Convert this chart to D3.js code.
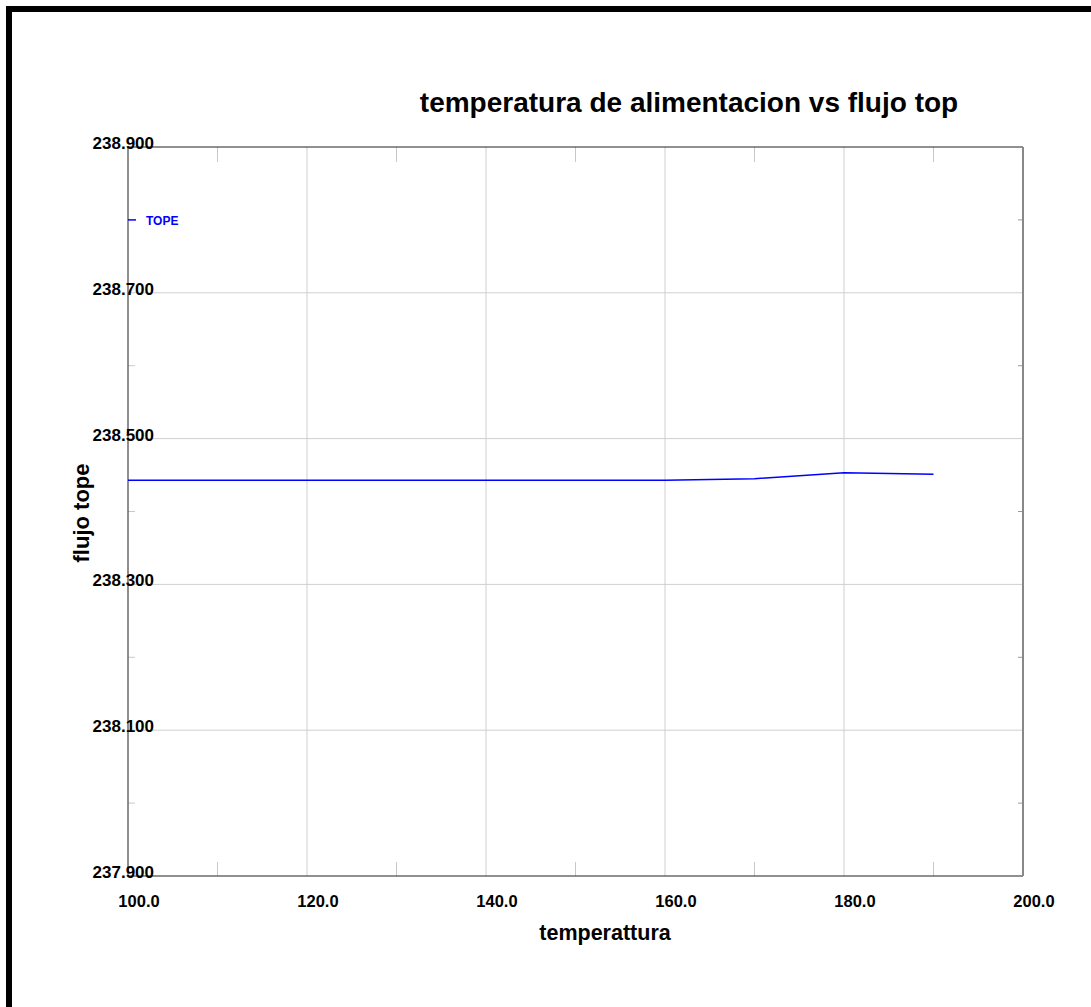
<!DOCTYPE html>
<html>
<head>
<meta charset="utf-8">
<script src="https://cdn.jsdelivr.net/npm/d3@7"></script>
<style>
  body { margin: 0; background: #fff; }
  svg { display: block; }
</style>
</head>
<body>
<script>
// temperatura de alimentacion vs flujo top
const temps = [100, 110, 120, 130, 140, 150, 160, 170, 180, 190];
const flujoTope = [238.443, 238.443, 238.443, 238.443, 238.443, 238.443, 238.443, 238.445, 238.453, 238.451];
const xMajor = [100, 120, 140, 160, 180, 200];
const xMinor = [110, 130, 150, 170, 190];
const yMajor = [237.9, 238.1, 238.3, 238.5, 238.7, 238.9];
const yMinor = [238.0, 238.2, 238.4, 238.6, 238.8];
const seriesName = "TOPE";

const width = 1091, height = 1007;
const margin = {top: 147, right: 68, bottom: 131, left: 128};
const innerW = width - margin.left - margin.right;
const innerH = height - margin.top - margin.bottom;
const font = "'Liberation Sans', Arial, sans-serif";

const svg = d3.select("body").append("svg")
  .attr("width", width).attr("height", height)
  .style("font-family", font);

// marco grueso (solo se ve izquierda y arriba)
svg.append("rect")
  .attr("x", 9).attr("y", 9).attr("width", 1200).attr("height", 1200)
  .attr("fill", "none").attr("stroke", "#000").attr("stroke-width", 6);

const x = d3.scaleLinear().domain([100, 200]).range([0, innerW]);
const y = d3.scaleLinear().domain([237.9, 238.9]).range([innerH, 0]);

const g = svg.append("g").attr("transform", `translate(${margin.left},${margin.top})`);

// rejilla principal
g.selectAll(".gx").data(xMajor.slice(1, -1)).join("line")
  .attr("x1", d => x(d)).attr("x2", d => x(d))
  .attr("y1", 0).attr("y2", innerH)
  .attr("stroke", "#cfcfcf").attr("stroke-width", 1);
g.selectAll(".gy").data(yMajor.slice(1, -1)).join("line")
  .attr("x1", 0).attr("x2", innerW)
  .attr("y1", d => y(d)).attr("y2", d => y(d))
  .attr("stroke", "#cfcfcf").attr("stroke-width", 1);

// marcas menores
for (const v of xMinor) {
  g.append("line").attr("x1", x(v)).attr("x2", x(v)).attr("y1", 0).attr("y2", 15)
    .attr("stroke", "#c8c8c8");
  g.append("line").attr("x1", x(v)).attr("x2", x(v)).attr("y1", innerH - 14).attr("y2", innerH)
    .attr("stroke", "#c8c8c8");
}
for (const v of yMinor) {
  g.append("line").attr("x1", innerW - 5).attr("x2", innerW).attr("y1", y(v)).attr("y2", y(v))
    .attr("stroke", "#999");
  if (v !== 238.8) {
    g.append("line").attr("x1", 0).attr("x2", 7).attr("y1", y(v)).attr("y2", y(v))
      .attr("stroke", "#c8c8c8");
  }
}

// bordes del área de trazado
g.append("line").attr("x1", 0).attr("x2", innerW).attr("y1", 0).attr("y2", 0)
  .attr("stroke", "#222").attr("stroke-width", 1.2);
g.append("line").attr("x1", 0).attr("x2", innerW).attr("y1", innerH).attr("y2", innerH)
  .attr("stroke", "#222").attr("stroke-width", 1.2);
g.append("line").attr("x1", 0).attr("x2", 0).attr("y1", 0).attr("y2", innerH)
  .attr("stroke", "#444").attr("stroke-width", 1.2);
g.append("line").attr("x1", innerW).attr("x2", innerW).attr("y1", 0).attr("y2", innerH)
  .attr("stroke", "#888").attr("stroke-width", 2);

// serie
g.append("path")
  .datum(temps.map((t, i) => [t, flujoTope[i]]))
  .attr("fill", "none").attr("stroke", "#0000ff").attr("stroke-width", 1.5)
  .attr("d", d3.line().x(d => x(d[0])).y(d => y(d[1])));

// leyenda
g.append("line").attr("x1", 0).attr("x2", 8).attr("y1", y(238.8)).attr("y2", y(238.8))
  .attr("stroke", "#0000ff").attr("stroke-width", 1.5);
g.append("text").attr("x", 18).attr("y", y(238.8) + 5)
  .attr("font-size", 12).attr("font-weight", "bold").attr("fill", "#0000ff")
  .text(seriesName);

// etiquetas de ejes
const fy = d3.format(".3f"), fx = d3.format(".1f");
g.selectAll(".ly").data(yMajor).join("text")
  .attr("x", 26).attr("y", d => y(d) + 2)
  .attr("text-anchor", "end").attr("font-size", 17).attr("font-weight", "bold")
  .text(d => fy(d));
g.selectAll(".lx").data(xMajor).join("text")
  .attr("x", d => x(d) + 11).attr("y", innerH + 31)
  .attr("text-anchor", "middle").attr("font-size", 16.5).attr("font-weight", "bold")
  .text(d => fx(d));

// títulos
svg.append("text")
  .attr("x", 689).attr("y", 112)
  .attr("text-anchor", "middle").attr("font-size", 28).attr("font-weight", "bold")
  .text("temperatura de alimentacion vs flujo top");
svg.append("text")
  .attr("x", 605).attr("y", 940)
  .attr("text-anchor", "middle").attr("font-size", 21.5).attr("font-weight", "bold")
  .text("temperattura");
svg.append("text")
  .attr("transform", "translate(89,513) rotate(-90)")
  .attr("text-anchor", "middle").attr("font-size", 22).attr("font-weight", "bold")
  .text("flujo tope");
</script>
</body>
</html>
